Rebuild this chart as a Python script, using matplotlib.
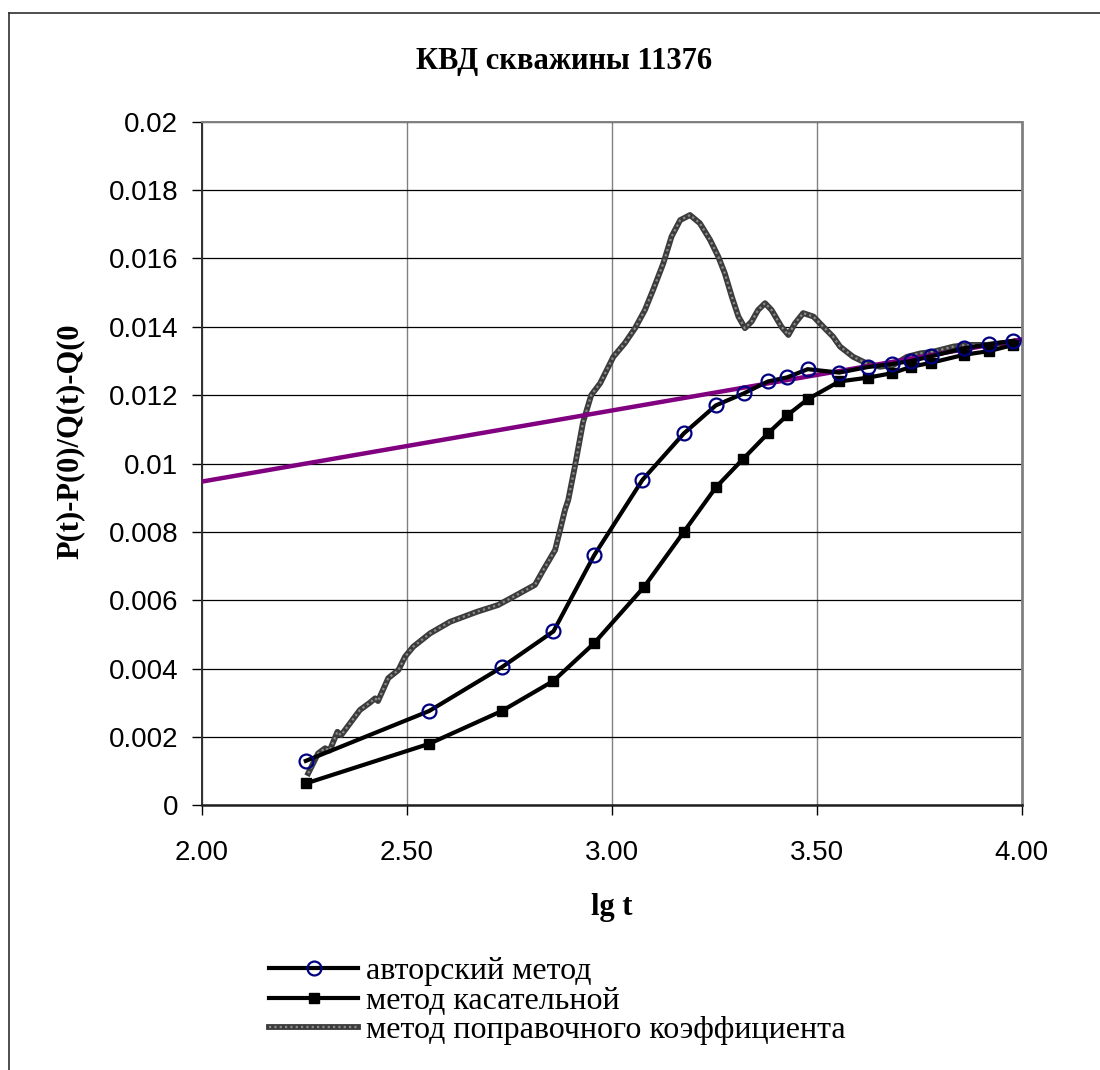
import matplotlib
matplotlib.use("Agg")
from matplotlib import pyplot as plt
from matplotlib.lines import Line2D

# --- data ---
lg_t_author = [2.254, 2.555, 2.732, 2.858, 2.957, 3.075, 3.176, 3.254, 3.322, 3.381, 3.428,
               3.478, 3.555, 3.624, 3.683, 3.731, 3.780, 3.859, 3.921, 3.980]
val_author = [0.00130, 0.00276, 0.00404, 0.00509, 0.00731, 0.00952, 0.01088, 0.01170, 0.01205,
              0.01240, 0.01252, 0.01276, 0.01266, 0.01282, 0.01291, 0.01300, 0.01314, 0.01337,
              0.01349, 0.01359]

lg_t_tangent = [2.254, 2.555, 2.732, 2.858, 2.957, 3.079, 3.176, 3.254, 3.321, 3.381, 3.428,
                3.478, 3.555, 3.624, 3.683, 3.731, 3.780, 3.859, 3.921, 3.980]
val_tangent = [0.00064, 0.00180, 0.00276, 0.00364, 0.00474, 0.00639, 0.00800, 0.00930, 0.01014,
               0.01088, 0.01141, 0.01188, 0.01240, 0.01251, 0.01264, 0.01283, 0.01295, 0.01318,
               0.01329, 0.01347]

lg_t_corr = [2.260, 2.284, 2.301, 2.312, 2.331, 2.340, 2.386, 2.410, 2.423, 2.430, 2.455, 2.480,
             2.496, 2.516, 2.557, 2.606, 2.671, 2.723, 2.760, 2.813, 2.833, 2.862, 2.874, 2.886,
             2.894, 2.910, 2.930, 2.950, 2.972, 3.004, 3.032, 3.057, 3.081, 3.101, 3.126, 3.146,
             3.167, 3.191, 3.215, 3.240, 3.260, 3.276, 3.293, 3.309, 3.325, 3.341, 3.357, 3.374,
             3.390, 3.414, 3.431, 3.447, 3.467, 3.492, 3.516, 3.540, 3.557, 3.589, 3.622, 3.654,
             3.687, 3.720, 3.752, 3.784, 3.833, 3.866, 3.915, 3.980]
val_corr = [0.00094, 0.00152, 0.00167, 0.00160, 0.00215, 0.00205, 0.00279, 0.00300, 0.00313,
            0.00305, 0.00372, 0.00396, 0.00435, 0.00464, 0.00503, 0.00537, 0.00566, 0.00586,
            0.00610, 0.00645, 0.00688, 0.00747, 0.00805, 0.00864, 0.00893, 0.00990, 0.01120,
            0.01200, 0.01235, 0.01312, 0.01352, 0.01396, 0.01449, 0.01508, 0.01586, 0.01664,
            0.01712, 0.01727, 0.01703, 0.01654, 0.01605, 0.01556, 0.01488, 0.01430, 0.01396,
            0.01415, 0.01449, 0.01469, 0.01449, 0.01400, 0.01376, 0.01410, 0.01440, 0.01430,
            0.01400, 0.01371, 0.01342, 0.01312, 0.01293, 0.01283, 0.01288, 0.01312, 0.01322,
            0.01327, 0.01342, 0.01347, 0.01347, 0.01356]

trend_x = [2.0, 4.0]
trend_y = [0.00947, 0.01363]

x_ticks = [2.0, 2.5, 3.0, 3.5, 4.0]
x_tick_labels = ['2.00', '2.50', '3.00', '3.50', '4.00']
y_ticks = [0, 0.002, 0.004, 0.006, 0.008, 0.01, 0.012, 0.014, 0.016, 0.018, 0.02]
y_tick_labels = ['0', '0.002', '0.004', '0.006', '0.008', '0.01', '0.012', '0.014', '0.016',
                 '0.018', '0.02']

title = 'КВД скважины 11376'
x_label = 'lg t'
y_label = 'P(t)-P(0)/Q(t)-Q(0'
labels = ['авторский метод', 'метод касательной', 'метод поправочного коэффициента']

serif = 'Liberation Serif'
sans = 'Liberation Sans'

fig = plt.figure(figsize=(11, 10.7), dpi=100)
ax = fig.add_axes([0.18336, 0.24738, 0.74545, 0.63888])

# gray "textured" line: dark base with light dashes on top
g1, = ax.plot(lg_t_corr, val_corr, color='#3c3c3c', lw=4.2, solid_joinstyle='round', zorder=3)
g2, = ax.plot(lg_t_corr, val_corr, color='#8c8c8c', lw=1.6, dashes=(1, 1.4), zorder=3.1)

ax.plot(trend_x, trend_y, color='#800080', lw=3.2, zorder=4)

l2, = ax.plot(lg_t_tangent, val_tangent, color='black', lw=3, marker='s', markersize=7,
              markerfacecolor='black', markeredgecolor='black', zorder=5)
l1, = ax.plot(lg_t_author, val_author, color='black', lw=3, marker='o', markersize=10,
              markerfacecolor='none', markeredgecolor='#000080', markeredgewidth=1.6, zorder=6)

ax.set_xlim(2.0, 4.0)
ax.set_ylim(0, 0.02)
ax.set_xticks(x_ticks)
ax.set_xticklabels(x_tick_labels, fontsize=20, family=sans)
ax.set_yticks(y_ticks)
ax.set_yticklabels(y_tick_labels, fontsize=20, family=sans)
ax.tick_params(axis='y', direction='out', length=7, width=1, pad=10)
ax.tick_params(axis='x', direction='out', length=7, width=1, pad=18)

ax.xaxis.grid(True, color='#808080', lw=1)
ax.yaxis.grid(True, color='black', lw=0.9)
ax.set_axisbelow(True)

ax.spines['left'].set_color('#303030')
ax.spines['left'].set_linewidth(1.4)
ax.spines['bottom'].set_color('#202020')
ax.spines['bottom'].set_linewidth(1.8)
ax.spines['top'].set_color('#808080')
ax.spines['top'].set_linewidth(1.4)
ax.spines['right'].set_color('#808080')
ax.spines['right'].set_linewidth(2)

fig.text(564 / 1100, 1 - 62 / 1070, title, ha='center', va='center', fontsize=22,
         fontweight='bold', family=serif)
fig.text(612 / 1100, 1 - 908 / 1070, x_label, ha='center', va='center', fontsize=22,
         fontweight='bold', family=serif)
fig.text(70 / 1100, 1 - 441 / 1070, y_label, ha='center', va='center', rotation=90,
         fontsize=22, fontweight='bold', family=serif)

fig.legend([l1, l2, (g1, g2)], labels, loc='upper left',
           bbox_to_anchor=(269 / 1100, 1 - 957 / 1070), frameon=False, borderpad=0,
           borderaxespad=0, handlelength=2.8, handletextpad=0.25, labelspacing=0.0,
           prop={'family': serif, 'size': 23})

# chart-area border (right and bottom edges fall outside the picture)
fig.add_artist(Line2D([9 / 1100, 9 / 1100], [0, 1 - 13 / 1070], transform=fig.transFigure,
                      color='#303030', lw=1.2))
fig.add_artist(Line2D([9 / 1100, 1], [1 - 13 / 1070, 1 - 13 / 1070], transform=fig.transFigure,
                      color='#303030', lw=1.2))

fig.savefig('out.png', dpi=100)
